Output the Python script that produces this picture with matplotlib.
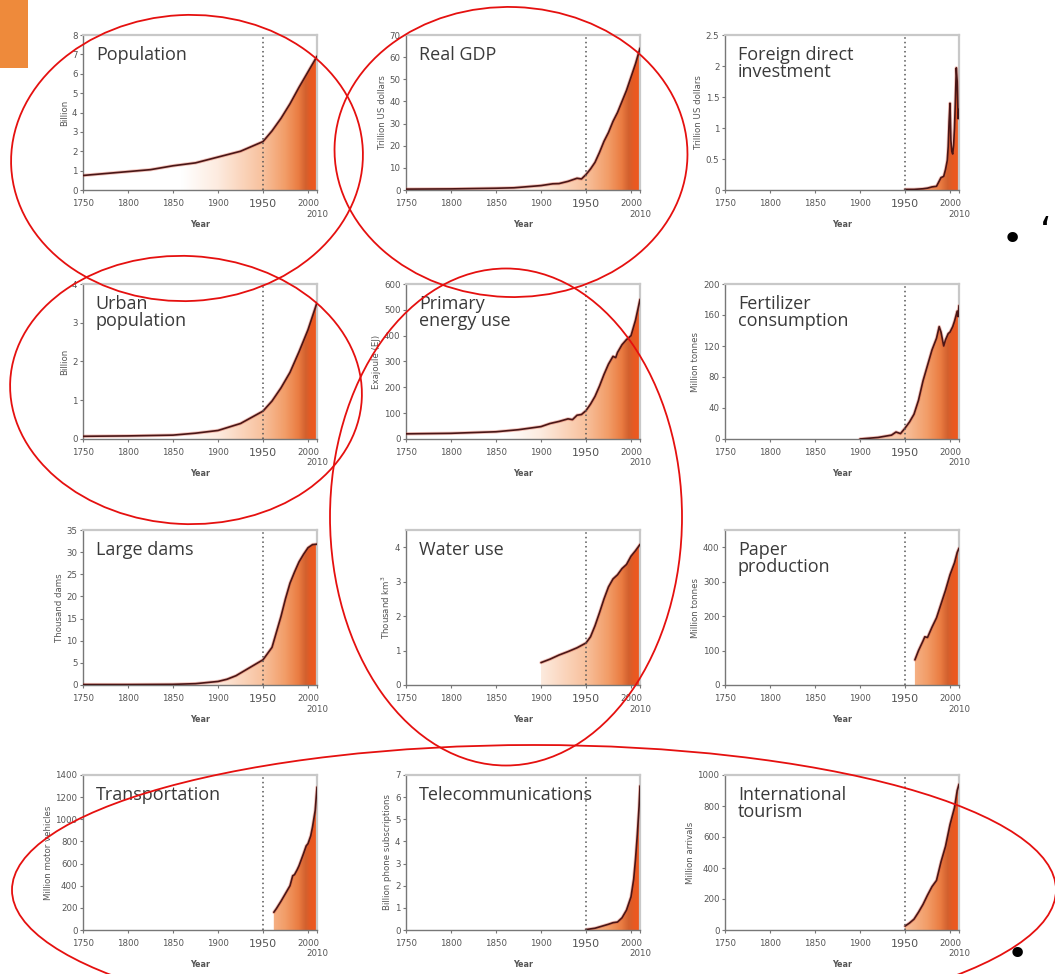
import numpy as np
import matplotlib
matplotlib.use("Agg")
import matplotlib.pyplot as plt
from matplotlib.colors import LinearSegmentedColormap
from matplotlib.patches import Ellipse, Rectangle
from matplotlib.transforms import blended_transform_factory, offset_copy

# Datos (anio, valor)
pop_years = [1750, 1775, 1800, 1825, 1850, 1875, 1900, 1925, 1950, 1960, 1970, 1980, 1990, 2000, 2010]
pop_vals = [0.75, 0.85, 0.95, 1.05, 1.25, 1.4, 1.7, 2.0, 2.5, 3.05, 3.7, 4.45, 5.3, 6.1, 6.9]

gdp_years = [1750, 1800, 1850, 1870, 1900, 1913, 1920, 1930, 1940, 1945, 1950, 1955, 1960, 1965,
             1970, 1975, 1980, 1985, 1990, 1995, 2000, 2005, 2010]
gdp_vals = [0.4, 0.5, 0.8, 1.0, 2.0, 2.8, 2.9, 3.9, 5.3, 5.0, 7.0, 9.5, 12.5, 17, 22, 26, 31, 35,
            40, 45, 51, 57, 64]

fdi_years = [1950, 1960, 1970, 1975, 1980, 1985, 1990, 1993, 1995, 1997, 1998, 1999, 2000, 2001,
             2002, 2003, 2004, 2005, 2006, 2007, 2008, 2009, 2010]
fdi_vals = [0.01, 0.01, 0.02, 0.03, 0.05, 0.06, 0.2, 0.22, 0.33, 0.48, 0.7, 1.1, 1.4, 0.8, 0.62,
            0.58, 0.72, 1.0, 1.45, 1.97, 1.75, 1.15, 1.3]

urb_years = [1750, 1800, 1850, 1875, 1900, 1925, 1950, 1960, 1970, 1980, 1990, 2000, 2010]
urb_vals = [0.07, 0.08, 0.1, 0.15, 0.22, 0.4, 0.72, 0.98, 1.32, 1.72, 2.25, 2.82, 3.52]

en_years = [1750, 1800, 1850, 1875, 1900, 1910, 1920, 1930, 1935, 1940, 1945, 1950, 1955, 1960,
            1965, 1970, 1975, 1980, 1983, 1985, 1990, 1995, 2000, 2005, 2010]
en_vals = [20, 22, 28, 36, 48, 60, 68, 78, 75, 92, 95, 110, 135, 165, 205, 250, 290, 320, 315,
           335, 365, 385, 400, 460, 540]

fert_years = [1900, 1910, 1920, 1930, 1935, 1940, 1945, 1950, 1955, 1960, 1965, 1970, 1975, 1980,
              1985, 1988, 1990, 1993, 1995, 1998, 2000, 2003, 2005, 2008, 2009, 2010]
fert_vals = [0, 1, 2, 4, 5, 9, 7, 14, 22, 32, 50, 75, 95, 115, 130, 145, 138, 120, 128, 136, 138,
             145, 152, 165, 158, 172]

dam_years = [1750, 1800, 1850, 1875, 1900, 1910, 1920, 1930, 1940, 1950, 1960, 1970, 1975, 1980,
             1985, 1990, 1995, 2000, 2005, 2010]
dam_vals = [0.1, 0.1, 0.15, 0.3, 0.8, 1.3, 2.1, 3.3, 4.5, 5.7, 8.5, 15.5, 19.5, 23, 25.5, 27.8,
            29.5, 31, 31.7, 31.8]

wat_years = [1900, 1910, 1920, 1930, 1940, 1945, 1950, 1955, 1960, 1965, 1970, 1975, 1980, 1985,
             1990, 1995, 2000, 2005, 2010]
wat_vals = [0.65, 0.75, 0.87, 0.97, 1.08, 1.15, 1.22, 1.4, 1.72, 2.1, 2.5, 2.85, 3.08, 3.2, 3.38,
            3.5, 3.74, 3.9, 4.08]

pap_years = [1961, 1965, 1970, 1972, 1975, 1980, 1985, 1990, 1995, 2000, 2005, 2008, 2010]
pap_vals = [73, 100, 128, 140, 138, 168, 195, 235, 275, 320, 355, 385, 397]

tra_years = [1962, 1965, 1970, 1975, 1980, 1983, 1985, 1988, 1990, 1995, 1998, 2000, 2003, 2005,
             2008, 2010]
tra_vals = [160, 195, 260, 330, 400, 490, 500, 545, 580, 690, 760, 780, 850, 930, 1080, 1290]

tel_years = [1950, 1960, 1970, 1975, 1980, 1985, 1990, 1995, 2000, 2003, 2005, 2007, 2009, 2010]
tel_vals = [0.02, 0.08, 0.2, 0.26, 0.33, 0.36, 0.55, 0.9, 1.5, 2.3, 3.2, 4.3, 5.6, 6.5]

tou_years = [1950, 1955, 1960, 1965, 1970, 1975, 1980, 1985, 1990, 1995, 2000, 2005, 2008, 2010]
tou_vals = [25, 45, 70, 115, 165, 225, 280, 320, 440, 540, 680, 790, 900, 940]

titles = ["Population", "Real GDP", "Foreign direct\ninvestment",
          "Urban\npopulation", "Primary\nenergy use", "Fertilizer\nconsumption",
          "Large dams", "Water use", "Paper\nproduction",
          "Transportation", "Telecommunications", "International\ntourism"]
ylabels = ["Billion", "Trillion US dollars", "Trillion US dollars",
           "Billion", "Exajoule (EJ)", "Million tonnes",
           "Thousand dams", "Thousand km$^3$", "Million tonnes",
           "Million motor vehicles", "Billion phone subscriptions", "Million arrivals"]
ytops = [8, 70, 2.5, 4, 600, 200, 35, 4.5, 450, 1400, 7, 1000]
ytick_sets = [list(range(0, 9)), list(range(0, 71, 10)), [0, 0.5, 1, 1.5, 2, 2.5],
              list(range(0, 5)), list(range(0, 601, 100)), list(range(0, 201, 40)),
              list(range(0, 36, 5)), list(range(0, 5)), list(range(0, 401, 100)),
              list(range(0, 1401, 200)), list(range(0, 8)), list(range(0, 1001, 200))]
series = [(pop_years, pop_vals), (gdp_years, gdp_vals), (fdi_years, fdi_vals),
          (urb_years, urb_vals), (en_years, en_vals), (fert_years, fert_vals),
          (dam_years, dam_vals), (wat_years, wat_vals), (pap_years, pap_vals),
          (tra_years, tra_vals), (tel_years, tel_vals), (tou_years, tou_vals)]

xticks = [1750, 1800, 1850, 1900, 1950, 2000, 2010]
xticklabels = ["1750", "1800", "1850", "1900", "1950", "2000", ""]

# Degradado blanco -> naranja
def yf(y):
    return (y - 1750) / 260.0

cmap = LinearSegmentedColormap.from_list("accel", [
    (0.0, "#ffffff"), (yf(1860), "#ffffff"), (yf(1900), "#fdebdf"),
    (yf(1950), "#f8c19d"), (yf(1975), "#f29d68"), (yf(1990), "#ea7c42"),
    (yf(1998), "#d2602e"), (yf(2004), "#e85a22"), (1.0, "#f0581e")])

W, H = 1055, 974
fig = plt.figure(figsize=(W / 100, H / 100), dpi=100)

col_left = [83, 406, 725]
row_top = [35, 284, 530, 775]
ax_w, ax_h = 234, 155

for i in range(12):
    r, c = divmod(i, 3)
    left = col_left[c] / W
    bottom = 1 - (row_top[r] + ax_h) / H
    ax = fig.add_axes([left, bottom, ax_w / W, ax_h / H])
    xs, ys = series[i]
    ytop = ytops[i]

    grad = np.linspace(0, 1, 512).reshape(1, -1)
    im = ax.imshow(grad, extent=[1750, 2010, 0, ytop], aspect="auto", cmap=cmap,
                   origin="lower", zorder=1)
    poly = ax.fill_between(xs, ys, 0, facecolor="none", edgecolor="none")
    im.set_clip_path(poly.get_paths()[0], transform=ax.transData)

    ax.plot(xs, ys, color="#d9503a", lw=2.4, alpha=0.35, zorder=3, solid_capstyle="round")
    ax.plot(xs, ys, color="#4a1616", lw=1.2, zorder=4, solid_capstyle="round")
    ax.axvline(1950, color="#555555", lw=1.1, ls=(0, (1, 2)), zorder=5)

    ax.set_xlim(1750, 2010)
    ax.set_ylim(0, ytop)
    ax.set_xticks(xticks)
    ax.set_xticklabels(xticklabels)
    ax.set_yticks(ytick_sets[i])
    ax.set_yticklabels([("%g" % v) for v in ytick_sets[i]])
    ax.tick_params(axis="both", labelsize=6.2, labelcolor="#555555", color="#777777",
                   length=2.5, width=0.8, pad=1.5)
    ax.tick_params(axis="x", pad=4)
    for lbl in ax.get_xticklabels():
        if lbl.get_text() == "1950":
            lbl.set_fontsize(8)
    # etiqueta 2010 debajo de 2000
    tr = offset_copy(blended_transform_factory(ax.transData, ax.transAxes),
                     fig=fig, x=0, y=-24, units="dots")
    ax.text(2010, 0, "2010", transform=tr, ha="center", va="center",
            fontsize=6.2, color="#555555", clip_on=False)
    ax.set_xlabel("Year", fontsize=5.8, fontweight="bold", color="#555555", labelpad=8)
    ax.set_ylabel(ylabels[i], fontsize=6.2, color="#555555", labelpad=2)

    for s in ["left", "bottom"]:
        ax.spines[s].set_color("#777777")
        ax.spines[s].set_linewidth(1.0)
    for s in ["top", "right"]:
        ax.spines[s].set_color("#c8c8c8")
        ax.spines[s].set_linewidth(1.6)

    ax.text(0.055, 0.93, titles[i], transform=ax.transAxes, ha="left", va="top",
            fontsize=13, color="#3a3a3a", family="Open Sans", linespacing=0.92, zorder=6)

# Capa de anotaciones en pixeles
ov = fig.add_axes([0, 0, 1, 1], zorder=20)
ov.set_xlim(0, W)
ov.set_ylim(H, 0)
ov.axis("off")
ov.patch.set_alpha(0)

ov.add_patch(Rectangle((0, 0), 28, 68, facecolor="#ee8a3b", edgecolor="none"))

red = "#e5100f"
ellipses = [((187, 158), 352, 286, -3), ((511, 152), 353, 290, 2),
            ((186, 390), 352, 268, 3), ((506, 517), 352, 497, 0),
            ((534, 890), 1044, 290, 0)]
for (cx, cy), ew, eh, ang in ellipses:
    ov.add_patch(Ellipse((cx, cy), ew, eh, angle=ang, facecolor="none",
                         edgecolor=red, lw=1.3))

ov.text(1012, 240, "\u2022", fontsize=26, color="black", ha="center", va="center")
ov.text(1046, 232, "\u2018", fontsize=26, color="black", ha="center", va="center")
ov.text(1017, 955, "\u2022", fontsize=26, color="black", ha="center", va="center")

fig.savefig("out.png", dpi=100)
